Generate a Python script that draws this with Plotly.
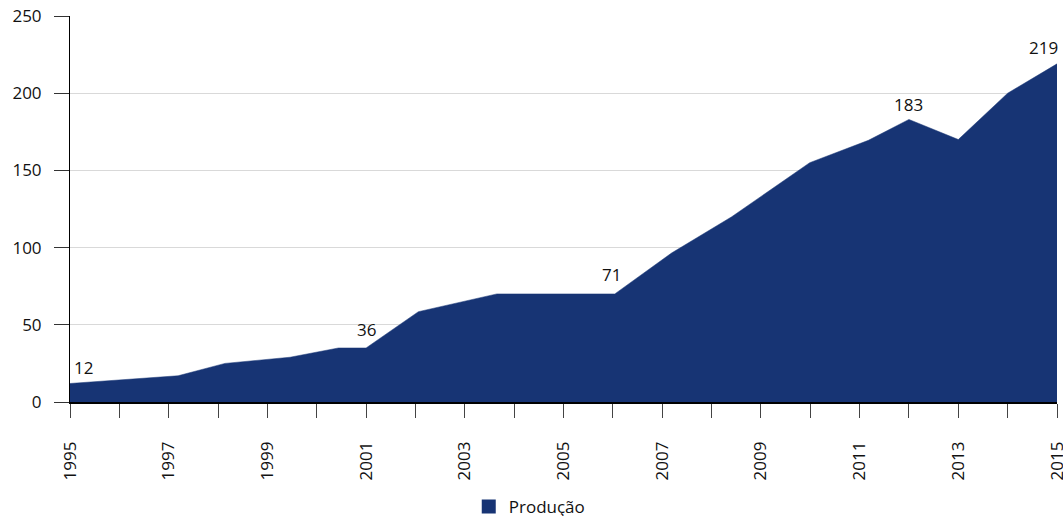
import plotly.graph_objects as go

# Data
years = [1995.0, 1997.19, 1998.14, 1999.46, 2000.44, 2001.0, 2002.06, 2003.65,
         2006.04, 2007.19, 2008.41, 2009.99, 2011.18, 2012.0, 2013.0, 2014.0, 2015.0]
producao = [12, 17, 25, 29, 35, 35, 58.5, 70, 70, 96.5, 120, 155, 169.5, 183, 170, 200, 219]

label_years = [1995.0, 2001.0, 2006.04, 2012.0, 2015.0]
label_values = [12, 36, 71, 183, 219]
label_text = ["12", "36", "71", "183", "219"]

series_name = "Produção"
x_tick_vals = list(range(1995, 2016))
x_tick_text = [str(y) if (y - 1995) % 2 == 0 else "" for y in x_tick_vals]
y_tick_vals = [0, 50, 100, 150, 200, 250]

color = "#173474"
font_family = "Open Sans, Noto Sans, sans-serif"

fig = go.Figure()
fig.add_trace(go.Scatter(
    x=years, y=producao, mode="lines", fill="tozeroy",
    line=dict(color=color, width=0.5), fillcolor=color,
    showlegend=False, hoverinfo="x+y",
))
# legend entry (square swatch)
fig.add_trace(go.Scatter(x=[None], y=[None], name=series_name, mode="markers",
                         marker=dict(color=color, symbol="square", size=14),
                         showlegend=True))

shifts = [(2, 16, "left"), (0, 17, "center"), (-3, 18, "center"), (0, 15, "center"), (3, 16, "right")]
for xv, yv, t, (xs, ys, xa) in zip(label_years, label_values, label_text, shifts):
    fig.add_annotation(x=xv, y=yv, text=t, showarrow=False, xanchor=xa, yanchor="middle",
                       xshift=xs, yshift=ys, font=dict(size=17, color="#111111", family=font_family))

fig.update_layout(
    width=1063, height=516,
    margin=dict(l=70, r=6, t=16, b=114, autoexpand=False),
    plot_bgcolor="white", paper_bgcolor="white",
    font=dict(family=font_family, size=17, color="#111111"),
    showlegend=True,
    legend=dict(orientation="h", x=0.404, xanchor="left", y=-0.272, yanchor="middle",
                font=dict(size=17), itemwidth=30, traceorder="normal"),
)
fig.update_xaxes(
    range=[1994.9999, 2015.0001], tickmode="array", tickvals=x_tick_vals, ticktext=x_tick_text,
    tickangle=-90, ticks="outside", ticklen=14, tickcolor="#444444", tickwidth=1,
    showline=True, linecolor="#000000", linewidth=1.5, showgrid=False, zeroline=False,
    ticklabelstandoff=17, automargin=False, ticklabeloverflow="allow",
)
fig.update_yaxes(
    range=[0, 250], tickvals=y_tick_vals, ticks="outside", ticklen=15, tickcolor="#333333",
    showline=True, linecolor="#000000", linewidth=1, showgrid=True, gridcolor="#d9d9d9",
    gridwidth=1, zeroline=False, ticklabelstandoff=9, automargin=False,
)

fig.write_html(
    "out.html",
    config={"displayModeBar": False},
    post_script="document.body.style.margin='0';document.body.style.overflow='hidden';",
)
